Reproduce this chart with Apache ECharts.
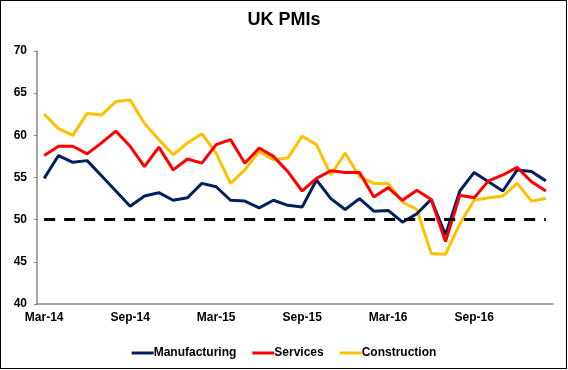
<!DOCTYPE html>
<html>
<head>
<meta charset="utf-8">
<script src="https://cdn.jsdelivr.net/npm/echarts@6/dist/echarts.min.js"></script>
<style>
  html, body { margin: 0; padding: 0; background: #fff; }
  #frame { position: absolute; left: 0; top: 0; width: 567px; height: 369px; box-sizing: border-box; border: 1px solid #000; }
  #chart { position: absolute; left: 0; top: 0; width: 568px; height: 370px; }
</style>
</head>
<body>
<div id="chart"></div>
<div id="frame"></div>
<script>
const months = [
  'Mar-14','Apr-14','May-14','Jun-14','Jul-14','Aug-14','Sep-14','Oct-14','Nov-14','Dec-14','Jan-15','Feb-15',
  'Mar-15','Apr-15','May-15','Jun-15','Jul-15','Aug-15','Sep-15','Oct-15','Nov-15','Dec-15','Jan-16','Feb-16',
  'Mar-16','Apr-16','May-16','Jun-16','Jul-16','Aug-16','Sep-16','Oct-16','Nov-16','Dec-16','Jan-17','Feb-17'
];
const manufacturing = [
  54.9, 57.6, 56.8, 57.0, 55.2, 53.4, 51.6, 52.8, 53.2, 52.3, 52.6, 54.3,
  53.9, 52.3, 52.2, 51.4, 52.3, 51.7, 51.5, 54.7, 52.5, 51.2, 52.5, 51.0,
  51.1, 49.7, 50.7, 52.4, 48.2, 53.4, 55.6, 54.5, 53.4, 55.9, 55.7, 54.6
];
const services = [
  57.6, 58.7, 58.7, 57.8, 59.1, 60.5, 58.7, 56.3, 58.6, 55.9, 57.2, 56.7,
  58.9, 59.5, 56.7, 58.5, 57.5, 55.7, 53.4, 54.9, 55.8, 55.6, 55.6, 52.7,
  53.8, 52.3, 53.5, 52.4, 47.4, 52.9, 52.6, 54.6, 55.3, 56.2, 54.5, 53.4
];
const construction = [
  62.5, 60.8, 60.0, 62.6, 62.4, 64.0, 64.2, 61.4, 59.5, 57.7, 59.1, 60.2,
  57.9, 54.3, 55.9, 58.1, 57.1, 57.3, 59.9, 58.9, 55.3, 57.9, 55.1, 54.3,
  54.3, 52.1, 51.2, 46.0, 45.9, 49.5, 52.3, 52.6, 52.8, 54.3, 52.2, 52.5
];
const threshold = 50;
const yTicks = { min: 40, max: 70, step: 5 };

const font = 'Liberation Sans, Arial, sans-serif';
const chart = echarts.init(document.getElementById('chart'), null, { renderer: 'canvas' });
chart.setOption({
  animation: false,
  title: {
    text: 'UK PMIs', left: 'center', top: 6,
    textStyle: { fontFamily: font, fontWeight: 'bold', fontSize: 18, color: '#000' }
  },
  legend: {
    bottom: 6, left: 'center', itemWidth: 22, itemHeight: 3, itemGap: 16,
    icon: 'rect',
    textStyle: { fontFamily: font, fontWeight: 'bold', fontSize: 12, color: '#000', padding: [0, 0, 0, -5] },
    data: ['Manufacturing', 'Services', 'Construction']
  },
  grid: { left: 37, right: 15, top: 51, bottom: 66, containLabel: false },
  xAxis: {
    type: 'category', data: months, boundaryGap: true,
    axisLine: { lineStyle: { color: '#868686', width: 1.5 } },
    axisTick: { interval: 5, length: 4, lineStyle: { color: '#868686' } },
    axisLabel: { interval: 5, margin: 8, fontFamily: font, fontWeight: 'bold', fontSize: 12, color: '#000' },
    splitLine: { show: false }
  },
  yAxis: {
    type: 'value', min: yTicks.min, max: yTicks.max, interval: yTicks.step,
    axisLine: { show: true, lineStyle: { color: '#868686', width: 1.5 } },
    axisTick: { show: true, length: 3, lineStyle: { color: '#868686' } },
    axisLabel: { margin: 10, fontFamily: font, fontWeight: 'bold', fontSize: 12, color: '#000' },
    splitLine: { show: false }
  },
  series: [
    {
      name: 'Manufacturing', type: 'line', data: manufacturing, symbol: 'none',
      lineStyle: { color: '#002060', width: 3 }, itemStyle: { color: '#002060' }, z: 3,
      markLine: {
        silent: true, symbol: 'none', label: { show: false },
        lineStyle: { color: '#000', width: 3, type: [11, 9] },
        data: [[{ coord: [months[0], threshold] }, { coord: [months[months.length - 1], threshold] }]]
      }
    },
    {
      name: 'Services', type: 'line', data: services, symbol: 'none',
      lineStyle: { color: '#FF0000', width: 3 }, itemStyle: { color: '#FF0000' }, z: 4
    },
    {
      name: 'Construction', type: 'line', data: construction, symbol: 'none',
      lineStyle: { color: '#FFC000', width: 3 }, itemStyle: { color: '#FFC000' }, z: 2
    }
  ]
});
</script>
</body>
</html>
